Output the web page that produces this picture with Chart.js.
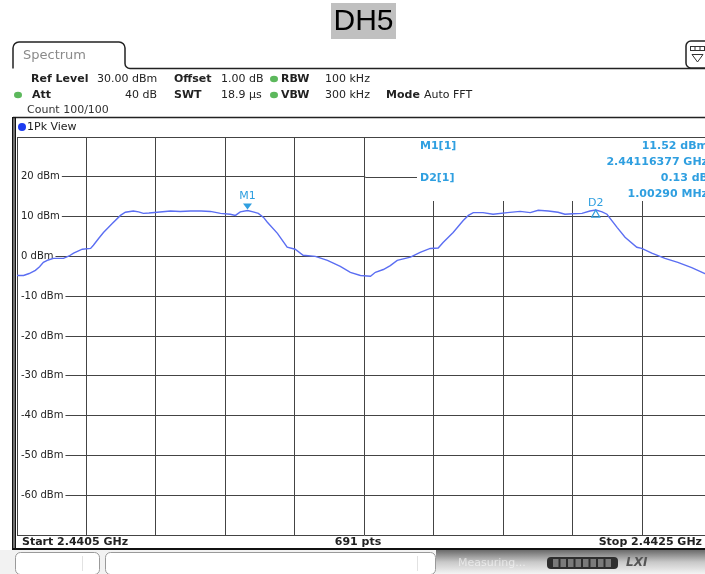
<!DOCTYPE html>
<html>
<head>
<meta charset="utf-8">
<script src="https://cdn.jsdelivr.net/npm/chart.js@4.4.1/dist/chart.umd.min.js"></script>
<style>
  html, body { margin: 0; padding: 0; background: #fff; overflow: hidden; }
  #wrap { width: 705px; height: 574px; overflow: hidden; }
</style>
</head>
<body>
<div id="wrap"><canvas id="spectrum" width="720" height="574"></canvas></div>
<script>
// trace, frequency in MHz, level in dBm
var freqMHz = [
  2440.500, 2440.519, 2440.535, 2440.553, 2440.565, 2440.576, 2440.590, 2440.605, 2440.634, 2440.650,
  2440.663, 2440.688, 2440.712, 2440.720, 2440.735, 2440.749, 2440.775, 2440.798, 2440.812, 2440.835,
  2440.850, 2440.864, 2440.880, 2440.904, 2440.942, 2440.970, 2440.999, 2441.030, 2441.057, 2441.086,
  2441.114, 2441.129, 2441.143, 2441.164, 2441.180, 2441.195, 2441.210, 2441.221, 2441.250, 2441.278,
  2441.301, 2441.324, 2441.359, 2441.394, 2441.431, 2441.460, 2441.489, 2441.518, 2441.532, 2441.555,
  2441.575, 2441.595, 2441.633, 2441.661, 2441.690, 2441.713, 2441.727, 2441.756, 2441.785, 2441.800,
  2441.814, 2441.842, 2441.871, 2441.912, 2441.949, 2441.978, 2442.001, 2442.030, 2442.058, 2442.078,
  2442.100, 2442.127, 2442.150, 2442.167, 2442.185, 2442.199, 2442.228, 2442.251, 2442.285, 2442.299,
  2442.328, 2442.366, 2442.403, 2442.443, 2442.481, 2442.500
]
var levelDbm = [
  -4.8, -4.8, -4.3, -3.5, -2.6, -1.5, -0.9, -0.5, -0.5, 0.1,
  0.8, 1.8, 2.0, 2.8, 4.5, 6.0, 8.3, 10.3, 11.1, 11.4,
  11.2, 10.8, 10.9, 11.1, 11.4, 11.3, 11.4, 11.4, 11.3, 10.8,
  10.6, 10.3, 11.2, 11.52, 11.2, 10.8, 9.8, 8.6, 5.8, 2.3,
  1.8, 0.3, 0.0, -1.0, -2.5, -4.0, -4.8, -5.0, -4.0, -3.3,
  -2.3, -1.0, -0.2, 1.0, 2.0, 2.1, 3.5, 6.0, 9.0, 10.3,
  11.0, 11.0, 10.6, 11.0, 11.3, 11.0, 11.6, 11.4, 11.1, 10.6,
  10.7, 10.8, 11.4, 11.65, 11.2, 10.6, 7.3, 4.8, 2.3, 2.0,
  0.8, -0.5, -1.5, -2.8, -4.3, -4.9
]
var yTickValues = [20, 10, 0, -10, -20, -30, -40, -50, -60]

var markerNames = ['M1', 'D2']
var markerFreqMHz = [2441.16377, 2442.16667]
var markerLevelDbm = [11.52, 11.65]

var startMHz = 2440.5
var stopMHz = 2442.5
var sweepPoints = 691

var FONT = '"DejaVu Sans", sans-serif'
var GRID = '#444'
var MARK = '#2f9fe0'

function txt(ctx, s, x, y, font, color, align) {
    ctx.font = font
    ctx.fillStyle = color
    ctx.textAlign = align || 'left'
    ctx.textBaseline = 'middle'
    ctx.fillText(s, x, y)
}

function dot(ctx, x, y, color) {
    ctx.fillStyle = color
    ctx.beginPath()
    ctx.ellipse(x, y, 4, 3.2, 0, 0, Math.PI * 2)
    ctx.fill()
}

var screenPlugin = {
    id: 'screen',
    beforeDraw: function (chart) {
        var ctx = chart.ctx
        ctx.save()
        ctx.fillStyle = '#fff'
        ctx.fillRect(0, 0, chart.width, chart.height)

        // title
        ctx.fillStyle = '#c0c0c0'
        ctx.fillRect(331, 3, 65, 36)
        txt(ctx, 'DH5', 363.5, 22, '30px "Liberation Sans", Arial, sans-serif', '#000', 'center')

        // tab
        ctx.strokeStyle = '#222'
        ctx.lineWidth = 1.5
        ctx.beginPath()
        ctx.moveTo(13, 68.5)
        ctx.lineTo(13, 48)
        ctx.arcTo(13, 42, 19, 42, 6)
        ctx.lineTo(119, 42)
        ctx.arcTo(125, 42, 125, 48, 6)
        ctx.lineTo(125, 63)
        ctx.arcTo(125, 68.5, 131, 68.5, 5)
        ctx.lineTo(720, 68.5)
        ctx.stroke()
        txt(ctx, 'Spectrum', 23, 56, '13px ' + FONT, '#8a8a8a')

        // icon top right
        ctx.fillStyle = '#fff'
        ctx.beginPath()
        ctx.roundRect(686, 41, 30, 27, 5)
        ctx.fill()
        ctx.stroke()
        ctx.strokeStyle = '#333'
        ctx.lineWidth = 1
        ctx.strokeRect(690.5, 46.5, 14, 4)
        ctx.beginPath()
        ctx.moveTo(695, 46.5); ctx.lineTo(695, 50.5)
        ctx.moveTo(700, 46.5); ctx.lineTo(700, 50.5)
        ctx.moveTo(692, 54.5); ctx.lineTo(703, 54.5); ctx.lineTo(697.5, 62); ctx.closePath()
        ctx.stroke()

        // settings lines
        var b = 'bold 11px ' + FONT
        var r = '11px ' + FONT
        var c = '#222'
        txt(ctx, 'Ref Level', 31, 79, b, c)
        txt(ctx, '30.00 dBm', 97, 79, r, c)
        txt(ctx, 'Offset', 174, 79, b, c)
        txt(ctx, '1.00 dB', 221, 79, r, c)
        dot(ctx, 274, 79, '#5cb85c')
        txt(ctx, 'RBW', 281, 79, b, c)
        txt(ctx, '100 kHz', 325, 79, r, c)

        dot(ctx, 18, 95, '#5cb85c')
        txt(ctx, 'Att', 32, 95, b, c)
        txt(ctx, '40 dB', 157, 95, r, c, 'right')
        txt(ctx, 'SWT', 174, 95, b, c)
        txt(ctx, '18.9 µs', 221, 95, r, c)
        dot(ctx, 274, 95, '#5cb85c')
        txt(ctx, 'VBW', 281, 95, b, c)
        txt(ctx, '300 kHz', 325, 95, r, c)
        txt(ctx, 'Mode', 386, 95, b, c)
        txt(ctx, 'Auto FFT', 424, 95, r, c)

        txt(ctx, 'Count 100/100', 27, 110, r, '#333')

        // view box
        ctx.strokeStyle = '#222'
        ctx.lineWidth = 1.5
        ctx.beginPath()
        ctx.moveTo(13, 117.5)
        ctx.lineTo(720, 117.5)
        ctx.stroke()
        ctx.fillStyle = '#1d3cf0'
        ctx.beginPath()
        ctx.arc(22, 127, 4, 0, Math.PI * 2)
        ctx.fill()
        txt(ctx, '1Pk View', 27, 127, r, '#222')
        ctx.restore()
    },
    beforeDatasetsDraw: function (chart) {
        var ctx = chart.ctx
        var xs = chart.scales.x
        var ys = chart.scales.y
        var area = chart.chartArea
        ctx.save()

        // y labels sit inside the grid
        ctx.font = '10px ' + FONT
        yTickValues.forEach(function (v) {
            var y = ys.getPixelForValue(v)
            var s = v + ' dBm'
            var w = ctx.measureText(s).width
            ctx.fillStyle = '#fff'
            ctx.fillRect(area.left + 1, y - 6, 22 - area.left + w, 12)
            txt(ctx, s, 21, y, '10px ' + FONT, '#222')
            ctx.font = '10px ' + FONT
        })

        // marker table area
        var tx = xs.getPixelForValue(startMHz + (stopMHz - startMHz) / 2) + 1
        ctx.fillStyle = '#fff'
        ctx.fillRect(tx, area.top + 1, area.right - tx, 63)
        var y20 = Math.round(ys.getPixelForValue(20)) + 0.5
        ctx.strokeStyle = GRID
        ctx.lineWidth = 1
        ctx.beginPath()
        ctx.moveTo(tx, y20)
        ctx.lineTo(417, y20)
        ctx.stroke()

        var mb = 'bold 11px ' + FONT
        var dLevel = markerLevelDbm[1] - markerLevelDbm[0]
        var dFreq = markerFreqMHz[1] - markerFreqMHz[0]
        txt(ctx, markerNames[0] + '[1]', 420, 146, mb, MARK)
        txt(ctx, markerLevelDbm[0].toFixed(2) + ' dBm', 708, 146, mb, MARK, 'right')
        txt(ctx, (markerFreqMHz[0] / 1000).toFixed(8) + ' GHz', 708, 162, mb, MARK, 'right')
        txt(ctx, markerNames[1] + '[1]', 420, 178, mb, MARK)
        txt(ctx, dLevel.toFixed(2) + ' dB', 708, 178, mb, MARK, 'right')
        txt(ctx, dFreq.toFixed(5) + ' MHz', 708, 194, mb, MARK, 'right')
        ctx.restore()
    },
    afterDatasetsDraw: function (chart) {
        var ctx = chart.ctx
        var xs = chart.scales.x
        var ys = chart.scales.y
        var area = chart.chartArea
        ctx.save()

        // markers
        var mx = xs.getPixelForValue(markerFreqMHz[0])
        var my = ys.getPixelForValue(markerLevelDbm[0]) - 1
        ctx.fillStyle = MARK
        ctx.beginPath()
        ctx.moveTo(mx - 4.5, my - 6)
        ctx.lineTo(mx + 4.5, my - 6)
        ctx.lineTo(mx, my)
        ctx.closePath()
        ctx.fill()
        txt(ctx, markerNames[0], mx, my - 13, '11px ' + FONT, MARK, 'center')

        var dx = xs.getPixelForValue(markerFreqMHz[1])
        var dy = ys.getPixelForValue(markerLevelDbm[1])
        ctx.strokeStyle = MARK
        ctx.lineWidth = 1.3
        ctx.beginPath()
        ctx.moveTo(dx, dy)
        ctx.lineTo(dx + 4, dy + 7)
        ctx.lineTo(dx - 4, dy + 7)
        ctx.closePath()
        ctx.stroke()
        txt(ctx, markerNames[1], dx, dy - 7, '11px ' + FONT, MARK, 'center')

        // status row
        ctx.fillStyle = '#fff'
        ctx.fillRect(13, area.bottom + 1, 720, 14)
        var sb = 'bold 11px ' + FONT
        txt(ctx, 'Start ' + (startMHz / 1000).toFixed(4) + ' GHz', 22, 542, sb, '#222')
        txt(ctx, sweepPoints + ' pts', 358, 542, sb, '#222', 'center')
        txt(ctx, 'Stop ' + (stopMHz / 1000).toFixed(4) + ' GHz', 702, 542, sb, '#222', 'right')
        ctx.strokeStyle = '#111'
        ctx.lineWidth = 2
        ctx.beginPath()
        ctx.moveTo(13, 549)
        ctx.lineTo(720, 549)
        ctx.stroke()

        // left double border
        ctx.fillStyle = '#111'
        ctx.fillRect(12, 117, 1.6, 433)
        ctx.fillRect(14.4, 117, 1.6, 433)

        // bottom bar
        ctx.fillStyle = '#f2f2f2'
        ctx.fillRect(0, 550, 440, 24)
        var g = ctx.createLinearGradient(0, 550, 0, 574)
        g.addColorStop(0, '#6a6a6a')
        g.addColorStop(0.5, '#c8c8c8')
        g.addColorStop(1, '#f4f4f4')
        ctx.fillStyle = g
        ctx.fillRect(436, 550, 284, 24)
        ctx.strokeStyle = '#9a9a9a'
        ctx.lineWidth = 1
        ctx.fillStyle = '#fff'
        ctx.beginPath()
        ctx.roundRect(15.5, 552.5, 84, 22, 5)
        ctx.fill(); ctx.stroke()
        ctx.beginPath()
        ctx.roundRect(105.5, 552.5, 330, 22, 5)
        ctx.fill(); ctx.stroke()
        ctx.strokeStyle = '#e2e2e2'
        ctx.beginPath()
        ctx.moveTo(82.5, 556); ctx.lineTo(82.5, 571)
        ctx.moveTo(417.5, 556); ctx.lineTo(417.5, 571)
        ctx.stroke()
        txt(ctx, 'Measuring...', 458, 563, '11px ' + FONT, 'rgba(255,255,255,0.55)')
        ctx.fillStyle = '#2e2e2e'
        ctx.beginPath()
        ctx.roundRect(547, 557, 71, 12, 4)
        ctx.fill()
        ctx.fillStyle = '#7a7a7a'
        for (var i = 0; i < 8; i++) {
            ctx.fillRect(553 + i * 7.5, 559, 5.5, 8)
        }
        txt(ctx, 'LXI', 626, 563, 'italic bold 12px ' + FONT, '#555')
        ctx.restore()
    }
}

var traceData = freqMHz.map(function (f, i) {
    return { x: f, y: levelDbm[i] }
})

new Chart(document.getElementById('spectrum').getContext('2d'), {
    type: 'line',
    data: {
        datasets: [{
            label: '1Pk View',
            data: traceData,
            borderColor: '#5b6ef2',
            borderWidth: 1.4,
            pointRadius: 0,
            tension: 0,
            fill: false
        }]
    },
    options: {
        responsive: false,
        animation: false,
        events: [],
        layout: { padding: { left: 17, top: 137, right: 8.5, bottom: 39 } },
        plugins: {
            legend: { display: false },
            tooltip: { enabled: false }
        },
        scales: {
            x: {
                type: 'linear',
                min: startMHz,
                max: stopMHz,
                ticks: { display: false, stepSize: 0.2 },
                grid: { color: GRID, lineWidth: 1, drawTicks: false },
                border: { display: false }
            },
            y: {
                min: -70,
                max: 30,
                ticks: { display: false, stepSize: 10 },
                grid: { color: GRID, lineWidth: 1, drawTicks: false },
                border: { display: false }
            }
        }
    },
    plugins: [screenPlugin]
})
</script>
</body>
</html>
